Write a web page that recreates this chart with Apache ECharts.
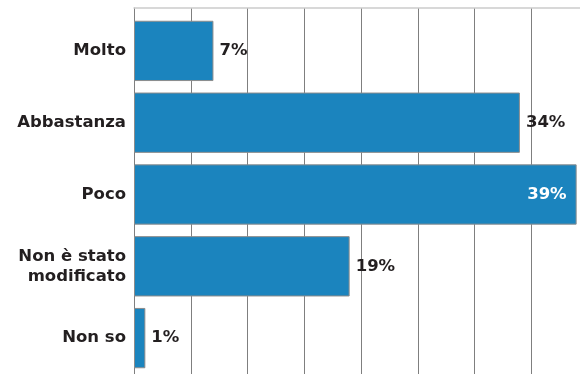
<!DOCTYPE html>
<html>
<head>
<meta charset="utf-8">
<script src="https://cdn.jsdelivr.net/npm/echarts@6/dist/echarts.min.js"></script>
<style>html,body{margin:0;padding:0;background:#fff;}#c{width:580px;height:374px;}</style>
</head>
<body>
<div id="c"></div>
<script>
var categories = ['Molto', 'Abbastanza', 'Poco', 'Non è stato\nmodificato', 'Non so'];
var values = [7, 34, 39, 19, 1];
var insideIndex = 2;
var axisMax = 40;
var axisStep = 5;

var chart = echarts.init(document.getElementById('c'));
var FONT = 'DejaVu Sans';
var FS = 16.5;
chart.setOption({
  animation: false,
  grid: [
    {left: 134, width: 454, top: 8, bottom: 0, outerBoundsMode: 'none', containLabel: false},
    {left: 134, width: 454, top: 15, bottom: 0, outerBoundsMode: 'none', containLabel: false}
  ],
  xAxis: [
    {gridIndex: 0, type: 'value', min: 0, max: axisMax, interval: axisStep, position: 'top',
     axisLine: {show: true, onZero: false, lineStyle: {color: '#cccccc', width: 1.5}},
     axisTick: {show: false}, axisLabel: {show: false},
     splitLine: {show: true, lineStyle: {color: '#7f7f7f', width: 1}}},
    {gridIndex: 1, type: 'value', min: 0, max: axisMax, show: false, splitLine: {show: false}}
  ],
  yAxis: [
    {gridIndex: 0, type: 'value', min: 0, max: 1, show: true,
     axisLine: {show: true, onZero: false, lineStyle: {color: '#7f7f7f'}},
     axisLabel: {show: false}, axisTick: {show: false}, splitLine: {show: false}},
    {gridIndex: 1, type: 'category', data: categories, inverse: true,
     axisLine: {show: false}, axisTick: {show: false},
     axisLabel: {color: '#231f20', fontFamily: FONT, fontWeight: 'bold', fontSize: FS, margin: 8, lineHeight: 20, align: 'right'}}
  ],
  series: [{
    type: 'bar', xAxisIndex: 1, yAxisIndex: 1,
    barCategoryGap: '16%',
    data: values.map(function (v, i) {
      return {
        value: v,
        label: i === insideIndex
          ? {position: 'insideRight', distance: 10, color: '#ffffff'}
          : {position: 'right', distance: 6, color: '#231f20'}
      };
    }),
    itemStyle: {color: '#1b84be', borderColor: '#8c8c8c', borderWidth: 1},
    label: {show: true, fontFamily: FONT, fontWeight: 'bold', fontSize: FS, formatter: '{c}%'}
  }]
});
</script>
</body>
</html>
